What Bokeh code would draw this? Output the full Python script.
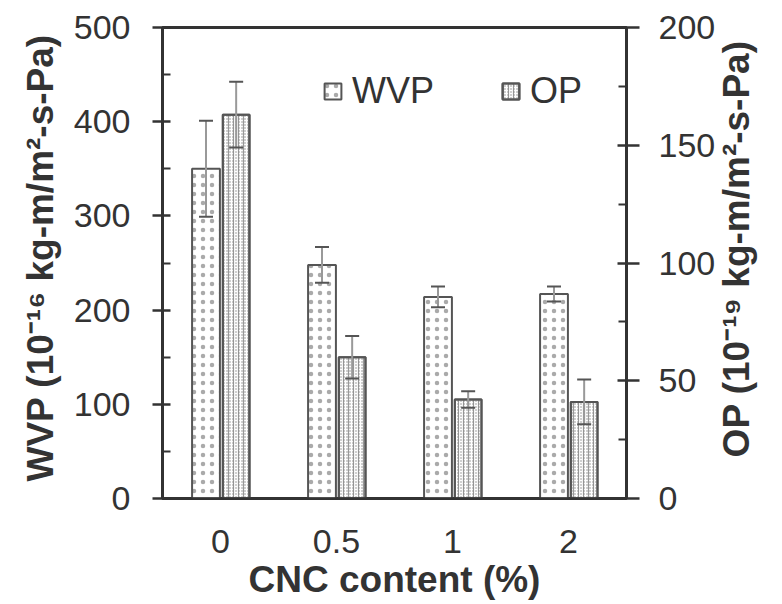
import math
from bokeh.plotting import figure
from bokeh.models import (ColumnDataSource, FactorRange, Range1d, LinearAxis, Whisker,
                          Legend, LegendItem, FixedTicker, TeeHead)
from bokeh.transform import dodge
from bokeh.embed import file_html
from bokeh.resources import INLINE

categories = ["0", "0.5", "1", "2"]
wvp = [350, 248, 214, 217]
wvp_err = [51, 19, 11, 8]
op = [163, 60, 42, 41]
op_err = [14, 9, 3.5, 9.5]

wvp_ticks = [0, 100, 200, 300, 400, 500]
wvp_minor = [50, 150, 250, 350, 450]
op_ticks = [0, 50, 100, 150, 200]
op_minor = [25, 75, 125, 175]

src = ColumnDataSource(dict(
    cat=categories, wvp=wvp, op=op,
    wvp_lo=[v - e for v, e in zip(wvp, wvp_err)],
    wvp_hi=[v + e for v, e in zip(wvp, wvp_err)],
    op_lo=[v - e for v, e in zip(op, op_err)],
    op_hi=[v + e for v, e in zip(op, op_err)],
))

FONT = "Liberation Sans"
DARK = "#333333"

p = figure(width=780, height=602, x_range=FactorRange(factors=categories),
           y_range=Range1d(0, 500), output_backend="svg", toolbar_location=None,
           min_border_left=162, min_border_right=150, min_border_top=27, min_border_bottom=104)
p.extra_y_ranges = {"op": Range1d(0, 200)}
p.xgrid.visible = False
p.ygrid.visible = False
p.outline_line_color = DARK
p.outline_line_width = 3
p.outline_line_alpha = 1

wx = dodge("cat", -0.125, range=p.x_range)
ox = dodge("cat", 0.135, range=p.x_range)

r_wvp = p.vbar(x=wx, top="wvp", width=0.24, source=src, fill_color="white",
               line_color="#555555", line_width=2, hatch_pattern="dot",
               hatch_color="#aaaaaa", hatch_scale=9, hatch_weight=1)
r_op = p.vbar(x=ox, top="op", width=0.23, source=src, y_range_name="op",
              fill_color="white", line_color="#555555", line_width=2,
              hatch_pattern="vertical_line", hatch_color="#999999", hatch_scale=5,
              hatch_weight=1.2)
r_op2 = p.vbar(x=ox, top="op", width=0.23, source=src, y_range_name="op",
               fill_alpha=0, line_color="#555555", line_width=2,
               hatch_pattern="dot", hatch_color="#888888", hatch_scale=3, hatch_weight=1)

for base, lo, hi, rng in [(wx, "wvp_lo", "wvp_hi", "default"), (ox, "op_lo", "op_hi", "op")]:
    w = Whisker(base=base, lower=lo, upper=hi, source=src, y_range_name=rng,
                line_color="#999999", line_width=2, level="overlay",
                upper_head=TeeHead(size=14, line_color="#555555", line_width=2),
                lower_head=TeeHead(size=14, line_color="#555555", line_width=2))
    p.add_layout(w)

def style_axis(ax):
    ax.axis_line_color = DARK
    ax.axis_line_width = 2.5
    ax.major_tick_line_color = DARK
    ax.major_tick_line_width = 2.5
    ax.minor_tick_line_color = DARK
    ax.minor_tick_line_width = 2
    ax.major_label_text_font = FONT
    ax.major_label_text_font_size = "34px"
    ax.major_label_text_color = DARK
    ax.axis_label_text_font = FONT
    ax.axis_label_text_font_style = "bold"
    ax.axis_label_text_font_size = "37px"
    ax.axis_label_text_color = DARK

ly = p.yaxis[0]
style_axis(ly)
ly.ticker = FixedTicker(ticks=wvp_ticks, minor_ticks=wvp_minor)
ly.major_tick_in = 8
ly.major_tick_out = 10
ly.minor_tick_in = 8
ly.minor_tick_out = 0
ly.major_label_standoff = 22
ly.axis_label = "\u00a0WVP (10\u207b\u00b9\u2076 kg-m/m\u00b2-s-Pa)"
ly.axis_label_standoff = 10

ry = LinearAxis(y_range_name="op", ticker=FixedTicker(ticks=op_ticks, minor_ticks=op_minor))
style_axis(ry)
ry.major_tick_in = 9
ry.major_tick_out = 13
ry.minor_tick_in = 8
ry.minor_tick_out = 0
ry.major_label_standoff = 19
ry.axis_label = "\u00a0\u00a0\u00a0\u00a0OP (10\u207b\u00b9\u2079 kg-m/m\u00b2-s-Pa)"
ry.axis_label_orientation = math.pi / 2
ry.axis_label_align = "start"
ry.axis_label_standoff = 18
p.add_layout(ry, "right")

bx = p.xaxis[0]
style_axis(bx)
bx.major_tick_in = 0
bx.major_tick_out = 0
bx.major_label_standoff = 31
bx.axis_label = "CNC content (%)"
bx.axis_label_standoff = 3

legend = Legend(items=[LegendItem(label="WVP", renderers=[r_wvp]),
                       LegendItem(label="OP", renderers=[r_op, r_op2])],
                orientation="horizontal", location=(160, 386),
                border_line_color=None, background_fill_alpha=0,
                label_text_font=FONT, label_text_font_size="36px", label_text_color=DARK,
                glyph_width=21, glyph_height=20, label_standoff=9, spacing=66,
                padding=0, margin=0)
p.add_layout(legend)

open("out.html", "w").write(file_html(p, INLINE))
